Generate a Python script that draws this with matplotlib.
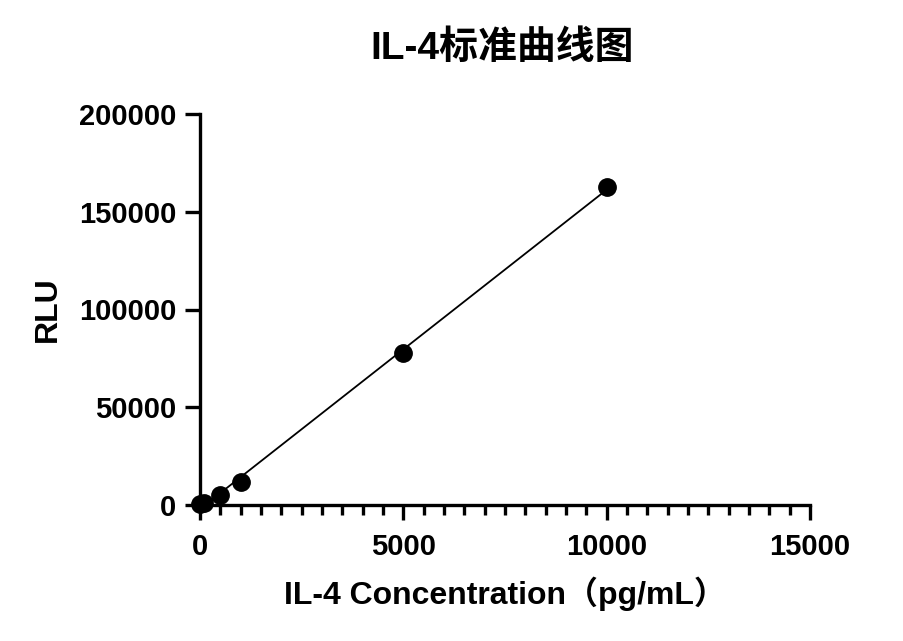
import numpy as np
import matplotlib
matplotlib.use("Agg")
import matplotlib.pyplot as plt
from matplotlib.ticker import MultipleLocator

plt.rcParams['font.family'] = ['Liberation Sans', 'Noto Sans CJK SC', 'DejaVu Sans']

conc = [0, 100, 500, 1000, 5000, 10000]
rlu = [500, 1200, 5100, 11800, 77700, 162500]
xticks = [0, 5000, 10000, 15000]
yticks = [0, 50000, 100000, 150000, 200000]
title = "IL-4标准曲线图"
xlabel = "IL-4 Concentration（pg/mL）"
ylabel = "RLU"

W, H = 904, 641
fig = plt.figure(figsize=(W/100, H/100), dpi=100)
x0, x1, y0, y1 = 200, 810, 505, 114
ax = fig.add_axes([x0/W, 1-y0/H, (x1-x0)/W, (y0-y1)/H])

slope, intercept = np.polyfit(conc, rlu, 1)
xf = np.array([min(conc), max(conc)])
ax.plot(xf, slope*xf + intercept, color='black', lw=1.3, zorder=2)
ax.plot(conc, rlu, 'o', color='black', ms=12.5, zorder=3, clip_on=False)

ax.set_xlim(0, 15000)
ax.set_ylim(0, 200000)
ax.set_xticks(xticks)
ax.set_yticks(yticks)
ax.xaxis.set_minor_locator(MultipleLocator(500))
for s in ['top', 'right']:
    ax.spines[s].set_visible(False)
for s in ['left', 'bottom']:
    ax.spines[s].set_linewidth(2.4)
ax.tick_params(which='major', length=11, width=2.4, labelsize=21, pad=6)
ax.tick_params(axis='x', which='major', pad=9)
ax.tick_params(which='minor', length=7, width=2.4)
for lab in ax.get_xticklabels() + ax.get_yticklabels():
    lab.set_fontweight('bold')

ax.set_xlabel(xlabel, fontsize=23, fontweight='bold', va='center',
              family=['Liberation Sans', 'Noto Sans CJK SC'])
ax.xaxis.set_label_coords(0.5, (y0-594)/(y0-y1))
ax.set_ylabel(ylabel, fontsize=23, fontweight='bold', va='center')
ax.yaxis.set_label_coords((48-x0)/(x1-x0), 0.5)
fig.text(502/W, 1-49/H, title, ha='center', va='center', fontsize=28, fontweight='bold',
         family=['Liberation Sans', 'Noto Sans CJK SC'])

fig.savefig('out.png', dpi=100)
